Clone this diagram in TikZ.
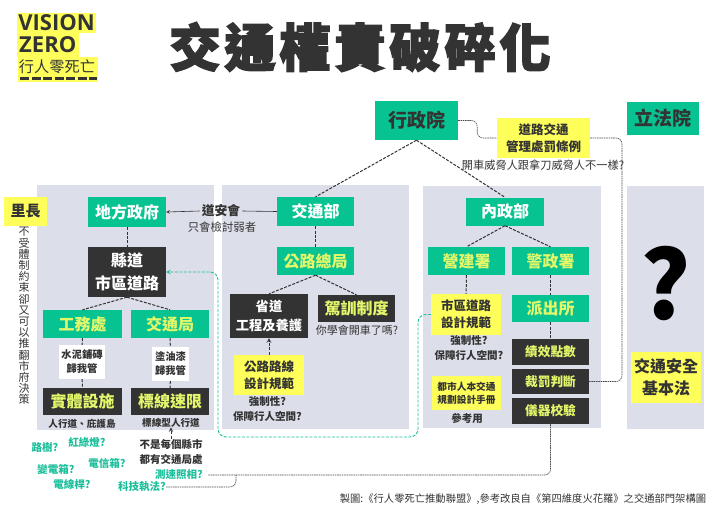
\documentclass[tikz,border=0pt]{standalone}
\usepackage{fontspec}
\setmainfont{Noto Sans CJK TC}
\newfontfamily\logofont{Open Sans}
\newcommand{\fsz}[2]{\fontsize{#1}{#2}\selectfont}
\definecolor{govgreen}{HTML}{06C391}
\definecolor{panelgray}{HTML}{DCDEE9}
\definecolor{lawyellow}{HTML}{FFFF5C}
\definecolor{darkbox}{HTML}{333333}
\definecolor{leafyellow}{HTML}{E4F76A}
\definecolor{tealtext}{HTML}{1CBF9B}
\tikzset{
  panel/.style={fill=panelgray, inner sep=0pt},
  green_box/.style={fill=govgreen, text=white, inner sep=0pt, align=center, minimum width=78pt, minimum height=28pt, font=\fsz{16}{22}\bfseries},
  green_sub/.style={green_box, text=leafyellow},
  dark_box/.style={fill=darkbox, text=white, inner sep=0pt, align=center, minimum width=78pt, minimum height=26pt, font=\fsz{13}{19}\bfseries},
  dark_sub/.style={dark_box, text=leafyellow, font=\fsz{16}{22}\bfseries},
  law_box/.style={fill=lawyellow, text=darkbox, inner sep=0pt, align=center, minimum width=70pt, minimum height=40pt, font=\fsz{12.5}{17}\bfseries},
  white_box/.style={fill=white, text=darkbox, inner sep=0pt, align=center, font=\fsz{10.3}{14}\bfseries},
  note/.style={text=darkbox, inner sep=0pt, align=center, font=\fsz{10.5}{15}\bfseries},
  plain_note/.style={text=darkbox, inner sep=0pt, align=center, font=\fsz{11}{15}},
  ask_note/.style={text=tealtext, inner sep=0pt, font=\fsz{10.5}{14}\bfseries},
  link/.style={darkbox, line width=1pt, dash pattern=on 3pt off 1.4pt},
  fine_link/.style={black!70, line width=.6pt, dash pattern=on 1.6pt off .7pt, rounded corners=6pt},
  teal_link/.style={tealtext, line width=.9pt, dash pattern=on 3pt off 1.5pt, rounded corners=8pt},
}
\begin{document}
\begin{tikzpicture}[x=1pt, y=-1pt]
    \useasboundingbox (0,0) rectangle (720,509);

    % Panels
    \fill[panel] (37,185) rectangle (214,430);
    \fill[panel] (222,185) rectangle (409,429);
    \fill[panel] (423,186) rectangle (601,428);
    \fill[panel] (627,186) rectangle (704,429);

    % Logo
    \node[fill=lawyellow, minimum width=79pt, minimum height=20pt, inner sep=0pt] (logo_a) at (56.5,23) {};
    \node[fill=lawyellow, minimum width=62pt, minimum height=24pt, inner sep=0pt] (logo_b) at (48,45) {};
    \node[fill=lawyellow, minimum width=80pt, minimum height=25pt, inner sep=0pt] (logo_c) at (57.5,69.5) {};
    \node[text=darkbox, inner sep=0pt, font=\logofont\fsz{22}{22}\bfseries] at (logo_a) {VISION};
    \node[text=darkbox, inner sep=0pt, anchor=west, font=\logofont\fsz{22}{22}\bfseries] at (19,45) {ZERO};
    \node[text=darkbox, inner sep=0pt, font=\fsz{15.2}{15}] at (57,67) {行人零死亡};
    \draw[darkbox, line width=2.4pt, dash pattern=on 9pt off 2.5pt] (20,78.5) -- (97,78.5);

    % Title
    \node[text=darkbox, inner sep=0pt, font={\fontspec{Noto Sans CJK TC}[FakeBold=3.2]\fsz{51}{51}\bfseries}] (title) at (360,47) {交\hspace{4pt}通\hspace{4pt}權\hspace{4pt}責\hspace{4pt}破\hspace{4pt}碎\hspace{4pt}化};

    % Top level
    \node[green_box, text=darkbox, minimum width=83pt, minimum height=39pt, font=\fsz{19}{22}\bfseries] (gov_exec) at (416.5,120.5) {行政院};
    \node[green_box, text=darkbox, minimum width=72pt, minimum height=33pt, font=\fsz{19}{22}\bfseries] (gov_leg) at (663,118) {立法院};
    \node[law_box, minimum width=93pt] (law_traffic) at (543.5,138) {道路交通\\管理處罰條例};
    \node[plain_note, font=\fsz{11.2}{15}] (law_note) at (543,165) {開車威脅人跟拿刀威脅人不一樣?};

    % Local government
    \node[law_box, minimum width=43pt, minimum height=29pt, font=\fsz{15}{15}\bfseries] (li_chief) at (25.5,211.5) {里長};
    \node[text=darkbox, inner sep=0pt, align=center, font=\fsz{11}{11.2}] (li_note) at (24,316) {不\\受\\體\\制\\約\\束\\卻\\又\\可\\以\\推\\翻\\市\\府\\決\\策};
    \node[green_box, minimum height=30pt] (local_gov) at (127,212) {地方政府};
    \node[dark_box, minimum height=50pt, font=\fsz{16}{23}\bfseries] (county_road) at (127,272) {縣道\\市區道路};
    \node[green_sub, minimum width=79pt] (works_dept) at (82.5,324) {工務處};
    \node[green_sub] (traffic_dept) at (170,324) {交通局};
    \node[white_box, minimum width=46pt, minimum height=34pt] (works_say) at (82,362) {水泥鋪磚\\歸我管};
    \node[white_box, minimum width=37pt, minimum height=34pt] (traffic_say) at (170.5,364) {塗油漆\\歸我管};
    \node[dark_sub, minimum width=79pt, minimum height=27pt] (facility) at (82.5,401.5) {實體設施};
    \node[dark_sub, minimum height=27pt] (marking) at (170,401.5) {標線速限};
    \node[note, font=\fsz{9.6}{12}\bfseries] (facility_note) at (82,424) {人行道、庇護島};
    \node[note, font=\fsz{9.6}{12}\bfseries] (marking_note) at (171,422.5) {標線型人行道};
    \node[note] (county_note) at (171,451.5) {不是每個縣市\\都有交通局處};

    % Questions
    \node[ask_note] (ask_tree) at (45,448) {路樹?};
    \node[ask_note] (ask_light) at (87,442) {紅綠燈?};
    \node[ask_note] (ask_box) at (56,469) {變電箱?};
    \node[ask_note] (ask_tel) at (107,463) {電信箱?};
    \node[ask_note] (ask_pole) at (72,484) {電線桿?};
    \node[ask_note, inner xsep=5pt] (ask_camera) at (179,475) {測速照相?};
    \node[ask_note] (ask_tech) at (142,487) {科技執法?};

    % Transport ministry
    \node[green_box, minimum width=77pt, minimum height=29pt] (min_transport) at (315.5,211.5) {交通部};
    \node[green_sub, minimum width=77pt] (highway_bureau) at (315.5,261) {公路總局};
    \node[dark_box, minimum height=44pt, font=\fsz{13.3}{19}\bfseries] (prov_road) at (269,316) {省道\\工程及養護};
    \node[dark_sub, minimum width=77pt, minimum height=27pt] (driving_school) at (356.5,308.5) {駕訓制度};
    \node[plain_note] (driving_note) at (357,330) {你學會開車了嗎?};
    \node[law_box] (highway_rule) at (269,375) {公路路線\\設計規範};
    \node[note] (highway_note) at (267.5,409.5) {強制性?\\保障行人空間?};

    % Interior ministry
    \node[green_box] (min_interior) at (505,211.5) {內政部};
    \node[green_sub, minimum width=77pt] (constr_agency) at (466.5,261) {營建署};
    \node[green_sub, minimum width=77pt] (police_agency) at (550.5,261) {警政署};
    \node[law_box, minimum height=41pt] (city_rule) at (466,314.5) {市區道路\\設計規範};
    \node[green_sub, minimum width=77pt, minimum height=27pt] (police_station) at (550.5,308.5) {派出所};
    \node[note] (city_note) at (469,348.5) {強制性?\\保障行人空間?};
    \node[law_box, minimum width=69pt, minimum height=34pt, font=\fsz{9.7}{13}\bfseries] (city_manual) at (466.5,393) {都市人本交通\\規劃設計手冊};
    \node[note] (manual_note) at (467,418) {參考用};
    \node[dark_sub, minimum width=77pt, font=\fsz{12.7}{16}\bfseries] (perf_points) at (550.5,352) {績效點數};
    \node[dark_sub, minimum width=77pt, minimum height=25pt, font=\fsz{12.7}{16}\bfseries] (fine_judge) at (550.5,381.5) {裁罰判斷};
    \node[dark_sub, minimum width=77pt, font=\fsz{12.7}{16}\bfseries] (meter_check) at (550.5,411) {儀器校驗};

    % Legislature
    \node[inner sep=0pt, font=\fsz{94}{94}\bfseries] (big_ask) at (666,283) {?};
    \node[law_box, minimum width=70pt, minimum height=51pt, font=\fsz{16}{22}\bfseries] (safety_law) at (666,377.5) {交通安全\\基本法};

    % Road safety council
    \node[text=darkbox, inner sep=0pt, font=\fsz{12.8}{15}\bfseries] (council) at (221,211) {道安會};
    \node[plain_note, font=\fsz{11.4}{15}] (council_note) at (222,227) {只會檢討弱者};
    \draw[darkbox, line width=.6pt] (min_transport.west) -- ([xshift=2pt]council.east);
    \draw[darkbox, line width=.6pt, -stealth] ([xshift=-2pt]council.west) -- (local_gov.east);

    % Hierarchy links
    \draw[link] (gov_exec.south) -- (min_transport.north);
    \draw[link] (gov_exec.south) -- (min_interior.north);
    \draw[link] (min_transport) -- (highway_bureau);
    \draw[link] (highway_bureau.south) -- (prov_road.north);
    \draw[link] (highway_bureau.south) -- (driving_school.north);
    \draw[link, -stealth] (highway_rule) -- (prov_road);
    \draw[link] (local_gov) -- (county_road);
    \draw[link] (county_road.south) -- (works_dept.north);
    \draw[link] (county_road.south) -- (traffic_dept.north);
    \draw[link] (works_dept) -- (works_say);
    \draw[link] (works_say) -- (facility);
    \draw[link] (traffic_dept) -- (traffic_say);
    \draw[link] (traffic_say) -- (marking);
    \draw[link, -stealth] (county_note) -- (marking_note);
    \draw[link] (min_interior.south) -- (constr_agency.north);
    \draw[link] (min_interior.south) -- (police_agency.north);
    \draw[link] (constr_agency) -- (city_rule);
    \draw[link] (police_agency) -- (police_station);
    \draw[link] (police_station) -- (perf_points);

    % Law links
    \coordinate (law_turn) at (622,138);
    \draw[fine_link] (gov_exec.east) -- ++(19,0) |- (law_traffic.west);
    \draw[fine_link] (law_traffic.east) -- (law_turn) |- (fine_judge.east);
    \draw[fine_link] (meter_check.south) |- (ask_camera.east);
    \coordinate (camera_join) at (236,475);
    \draw[fine_link] (ask_tech.east) -| (camera_join);

    % Road design link
    \coordinate (teal_a) at (418,314.5);
    \coordinate (teal_b) at (418,437);
    \coordinate (teal_c) at (218,437);
    \coordinate (teal_d) at (218,272);
    \draw[teal_link, -stealth] (city_rule.west) -- (teal_a) -- (teal_b) -- (teal_c) -- (teal_d) -- (county_road.east);

    % Credit
    \node[text=darkbox, inner sep=0pt, font=\fsz{10.3}{12}] (credit) at (523,499) {製圖:《行人零死亡推動聯盟》,參考改良自《第四維度火花羅》之交通部門架構圖};
\end{tikzpicture}
\end{document}
